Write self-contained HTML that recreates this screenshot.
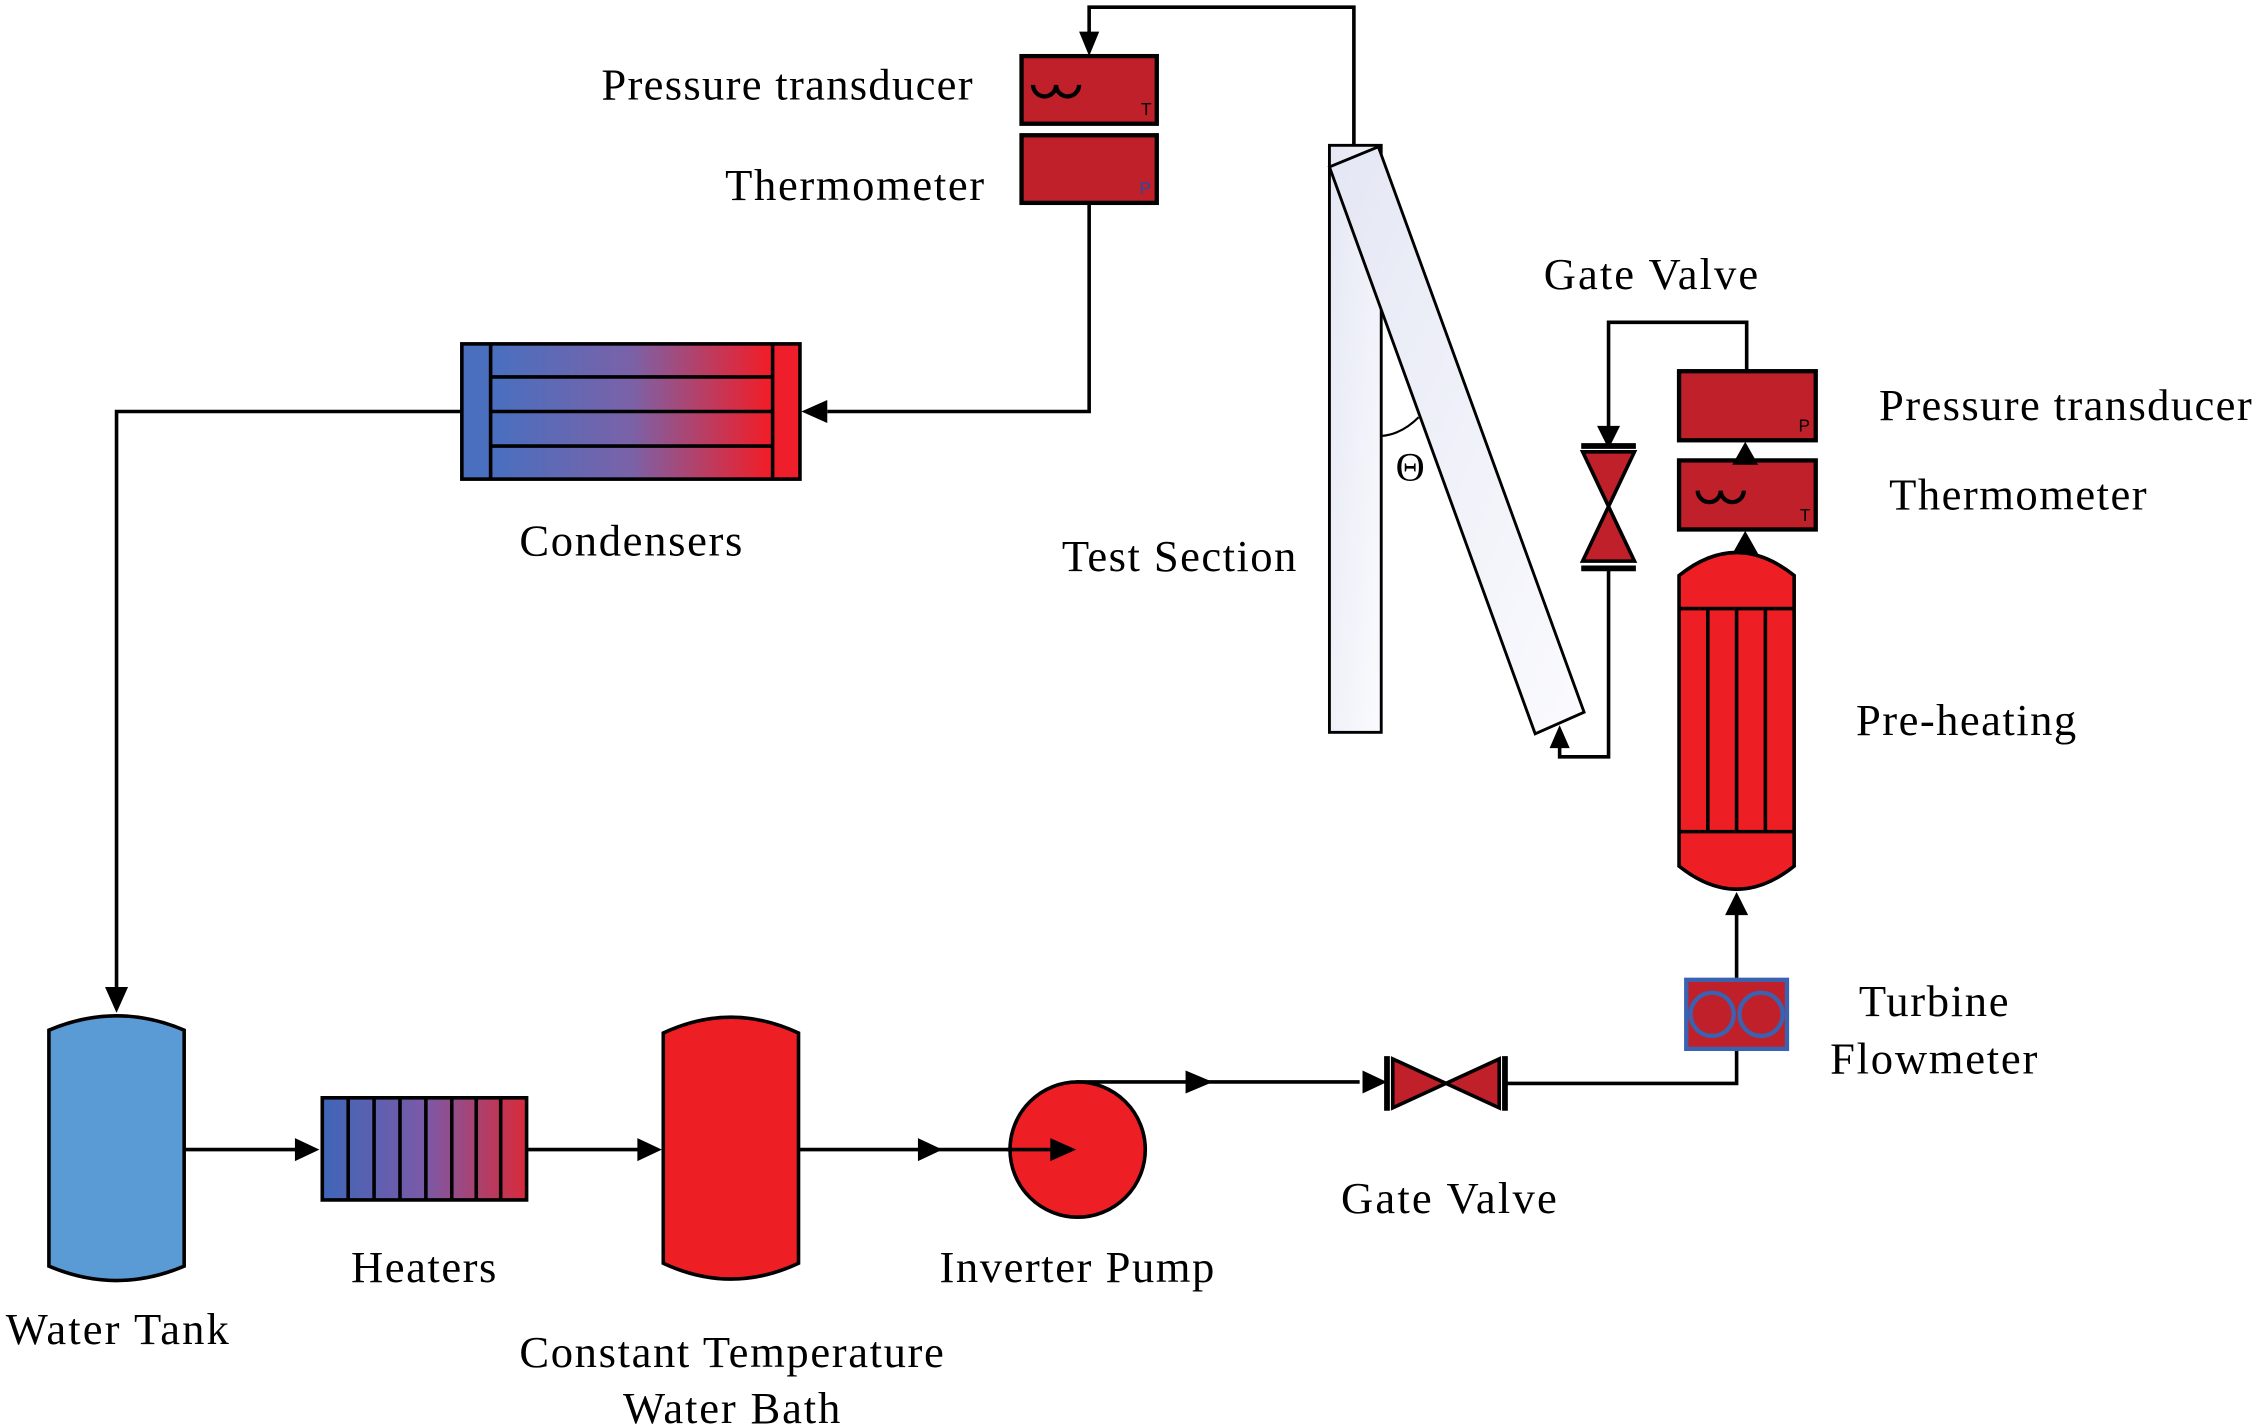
<!DOCTYPE html>
<html><head><meta charset="utf-8"><style>html,body{margin:0;padding:0;background:#fff}svg{display:block}</style></head><body>
<svg width="2256" height="1428" viewBox="0 0 1568 992.5" xmlns="http://www.w3.org/2000/svg" font-family="Liberation Serif, serif" font-size="31">
<defs>
<linearGradient id="cg" x1="0" x2="1"><stop offset="0.1" stop-color="#4a6fbf"/><stop offset="0.5" stop-color="#7a62a8"/><stop offset="0.9" stop-color="#ee1f2a"/></linearGradient>
<linearGradient id="hg" x1="0" x2="1"><stop offset="0" stop-color="#3f66b8"/><stop offset="0.5" stop-color="#7a5aa8"/><stop offset="1" stop-color="#d82a3a"/></linearGradient>
<linearGradient id="tg" x1="0" x2="1" y1="0" y2="1"><stop offset="0" stop-color="#e4e7f4"/><stop offset="1" stop-color="#fbfbfe"/></linearGradient>
</defs>
<g stroke="#000" stroke-width="2.5" fill="none">
<polyline points="941,101 941,5 757,5 757,30"/>
<polyline points="757,141 757,286 575,286"/>
<polyline points="321,286 81,286 81,688"/>
<line x1="129" y1="799" x2="207" y2="799"/>
<line x1="366" y1="799" x2="445" y2="799"/>
<line x1="556" y1="799" x2="735" y2="799"/>
<polyline points="748,752 945,752"/>
<polyline points="1047,753 1207,753 1207,729"/>
<line x1="1207" y1="681" x2="1207" y2="635"/>
<polyline points="1214,258 1214,224 1118,224 1118,300"/>
<polyline points="1118,395 1118,526 1084,526 1084,518"/>
</g>
<g fill="#000">
<polygon points="750,22 764,22 757,39"/>
<polygon points="557,286 575,278 575,294"/>
<polygon points="73,686 89,686 81,704"/>
<polygon points="205,791 205,807 222,799"/>
<polygon points="443,791 443,807 460,799"/>
<polygon points="638,791 638,807 655,799"/>
<polygon points="824,744 824,760 843,752"/>
<polygon points="947,744 947,760 964,752"/>
<polygon points="1199,636 1215,636 1207,620"/>
<polygon points="1110,296 1126,296 1118,312"/>
<polygon points="1077,520 1091,520 1084,504"/>
</g>
<rect x="710" y="39" width="94" height="47" fill="#c0202a" stroke="#000" stroke-width="3"/>
<path d="M718,59 a8,8 0 0 0 16,0 a8,8 0 0 0 16,0" fill="none" stroke="#000" stroke-width="3"/>
<text x="793" y="80" font-family="Liberation Sans, sans-serif" font-size="12">T</text>
<rect x="710" y="94" width="94" height="47" fill="#c0202a" stroke="#000" stroke-width="3"/>
<text x="792" y="135" font-family="Liberation Sans, sans-serif" font-size="12" fill="#2a4aa0">P</text>
<rect x="321" y="239" width="235" height="94" fill="url(#cg)" stroke="#000" stroke-width="2.5"/>
<line x1="341" y1="239" x2="341" y2="333" stroke="#000" stroke-width="2.5"/>
<line x1="537" y1="239" x2="537" y2="333" stroke="#000" stroke-width="2.5"/>
<g stroke="#000" stroke-width="2.5"><line x1="341" y1="262" x2="537" y2="262"/><line x1="341" y1="286" x2="537" y2="286"/><line x1="341" y1="310" x2="537" y2="310"/></g>
<path d="M34,716 Q81,696 128,716 L128,880 Q81,900 34,880 Z" fill="#5b9bd5" stroke="#000" stroke-width="2.5"/>
<rect x="224" y="763" width="142" height="71" fill="url(#hg)" stroke="#000" stroke-width="2.5"/>
<g stroke="#000" stroke-width="2.5"><line x1="242" y1="763" x2="242" y2="834"/><line x1="260" y1="763" x2="260" y2="834"/><line x1="278" y1="763" x2="278" y2="834"/><line x1="296" y1="763" x2="296" y2="834"/><line x1="314" y1="763" x2="314" y2="834"/><line x1="331" y1="763" x2="331" y2="834"/><line x1="348" y1="763" x2="348" y2="834"/></g>
<path d="M461,718 Q508,696 555,718 L555,878 Q508,900 461,878 Z" fill="#ee1f24" stroke="#000" stroke-width="2.5"/>
<circle cx="749" cy="799" r="47" fill="#ee1f24" stroke="#000" stroke-width="2.5"/>
<line x1="700" y1="799" x2="735" y2="799" stroke="#000" stroke-width="2.5"/>
<polygon points="730,791 730,807 748,799" fill="#000"/>
<g stroke="#000" stroke-width="2.5">
<polygon points="968,736 968,770 1005,753 1042,736 1042,770 1005,753" fill="#c0202a"/>
<line x1="964" y1="734" x2="964" y2="772" stroke-width="4"/>
<line x1="1046" y1="734" x2="1046" y2="772" stroke-width="4"/>
</g>
<g stroke="#000" stroke-width="2.5">
<polygon points="1100,314 1136,314 1118,352 1100,390 1136,390 1118,352" fill="#c0202a"/>
<line x1="1099" y1="310" x2="1137" y2="310" stroke-width="4"/>
<line x1="1099" y1="395" x2="1137" y2="395" stroke-width="4"/>
</g>
<rect x="1172" y="681" width="70" height="48" fill="#c0202a" stroke="#3a62b0" stroke-width="3"/>
<circle cx="1190" cy="705" r="15" fill="none" stroke="#3a62b0" stroke-width="3"/>
<circle cx="1224" cy="705" r="15" fill="none" stroke="#3a62b0" stroke-width="3"/>
<path d="M1167,400 Q1207,368 1247,400 L1247,602 Q1207,634 1167,602 Z" fill="#ee1f24" stroke="#000" stroke-width="2.5"/>
<g stroke="#000" stroke-width="2.5"><line x1="1167" y1="423" x2="1247" y2="423"/><line x1="1167" y1="578" x2="1247" y2="578"/><line x1="1187" y1="423" x2="1187" y2="578"/><line x1="1207" y1="423" x2="1207" y2="578"/><line x1="1227" y1="423" x2="1227" y2="578"/></g>
<rect x="1167" y="320" width="95" height="48" fill="#c0202a" stroke="#000" stroke-width="3"/>
<path d="M1180,341 a8,8 0 0 0 16,0 a8,8 0 0 0 16,0" fill="none" stroke="#000" stroke-width="3"/>
<text x="1251" y="362" font-family="Liberation Sans, sans-serif" font-size="12">T</text>
<rect x="1167" y="258" width="95" height="48" fill="#c0202a" stroke="#000" stroke-width="3"/>
<text x="1250" y="300" font-family="Liberation Sans, sans-serif" font-size="12">P</text>
<polygon points="1204,323 1222,323 1213,307" fill="#000"/>
<polygon points="1204,385 1222,385 1213,369" fill="#000"/>
<rect x="924" y="101" width="36" height="408" fill="url(#tg)" stroke="#000" stroke-width="2"/>
<polygon points="924,116 958,102 1101,495 1067,510" fill="url(#tg)" stroke="#000" stroke-width="2"/>
<path d="M960,303 Q974,302 986,290" fill="none" stroke="#000" stroke-width="1.5"/>
<text x="970" y="334" font-size="28">Θ</text>
<g fill="#000" lengthAdjust="spacingAndGlyphs">
<text x="418" y="69" textLength="258">Pressure transducer</text>
<text x="504" y="139" textLength="180">Thermometer</text>
<text x="1073" y="201" textLength="149">Gate Valve</text>
<text x="1306" y="292" textLength="259">Pressure transducer</text>
<text x="1313" y="354" textLength="179">Thermometer</text>
<text x="361" y="386" textLength="155">Condensers</text>
<text x="738" y="397" textLength="163">Test Section</text>
<text x="1290" y="511" textLength="153">Pre-heating</text>
<text x="1292" y="706" textLength="104">Turbine</text>
<text x="1272" y="746" textLength="144">Flowmeter</text>
<text x="932" y="843" textLength="150">Gate Valve</text>
<text x="244" y="891" textLength="101">Heaters</text>
<text x="653" y="891" textLength="191">Inverter Pump</text>
<text x="4" y="934" textLength="155">Water Tank</text>
<text x="361" y="950" textLength="295">Constant Temperature</text>
<text x="433" y="989" textLength="151">Water Bath</text>
</g>
</svg>
</body></html>
